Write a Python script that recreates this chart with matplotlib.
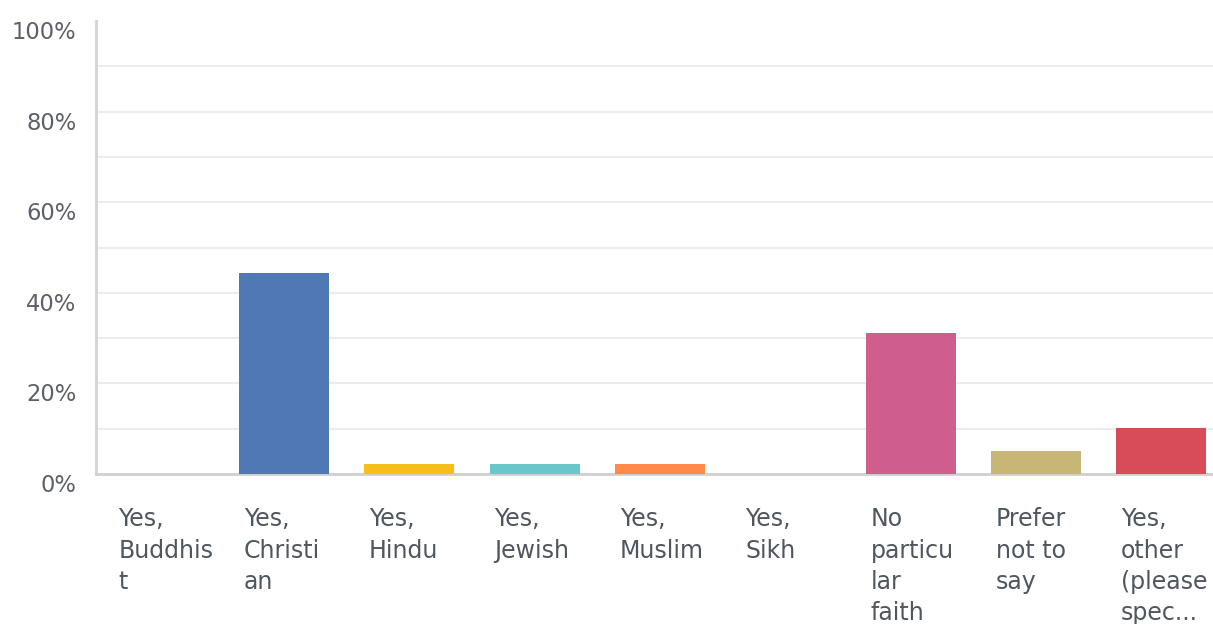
import matplotlib.pyplot as plt
from matplotlib.transforms import ScaledTranslation

# survey answers, wrapped the way the survey tool wraps them
categories = ['Yes,\nBuddhis\nt', 'Yes,\nChristi\nan', 'Yes,\nHindu', 'Yes,\nJewish',
              'Yes,\nMuslim', 'Yes,\nSikh', 'No\nparticu\nlar\nfaith',
              'Prefer\nnot to\nsay', 'Yes,\nother\n(please\nspec...']
values = [0.0, 44.4, 2.2, 2.2, 2.2, 0.0, 31.2, 5.1, 10.1]
colors = ['#00bf6f', '#4f78b5', '#f6be1a', '#6ac7c9', '#ff8a4c',
          '#a05fa8', '#d05e8d', '#c8b677', '#d84c5a']
yticks = [0, 20, 40, 60, 80, 100]
ytick_labels = ['0%', '20%', '40%', '60%', '80%', '100%']

W, H = 1213, 624
fig = plt.figure(figsize=(W / 100, H / 100), dpi=100)
# plot area runs a little past the right edge of the image
ax = fig.add_axes([96 / W, 1 - 474 / H, (1224 - 96) / W, (474 - 21) / H])

bw = 0.72
x = list(range(len(categories)))
ax.bar(x, values, width=bw, color=colors, zorder=3)
ax.set_xlim(-0.5, len(categories) - 0.5)
ax.set_ylim(0, 100)

# light gridlines every 10%
for g in range(10, 100, 10):
    ax.axhline(g, color='#ececec', lw=1.5, zorder=1)

for s in ['top', 'right']:
    ax.spines[s].set_visible(False)
ax.spines['left'].set_color('#d4d4d4')
ax.spines['left'].set_linewidth(2)
ax.spines['bottom'].set_color('#cfcfcf')
ax.spines['bottom'].set_linewidth(2)

ax.set_yticks(yticks)
ax.set_yticklabels(ytick_labels, fontsize=16.3, color='#5b6168')
ax.tick_params(axis='y', length=0, pad=14)
ax.tick_params(axis='x', length=0, labelbottom=False)
shift = ScaledTranslation(0, -9 / 100, fig.dpi_scale_trans)
for lab in ax.get_yticklabels():
    lab.set_transform(lab.get_transform() + shift)

# category labels sit left-aligned under each bar
for i, lab in enumerate(categories):
    ax.annotate(lab, xy=(i - bw / 2, 0), xycoords=('data', 'axes fraction'),
                xytext=(3.5, -24), textcoords='offset points',
                ha='left', va='top', fontsize=17, color='#4e5660',
                linespacing=1.38, annotation_clip=False)

fig.savefig('out.png', dpi=100)
